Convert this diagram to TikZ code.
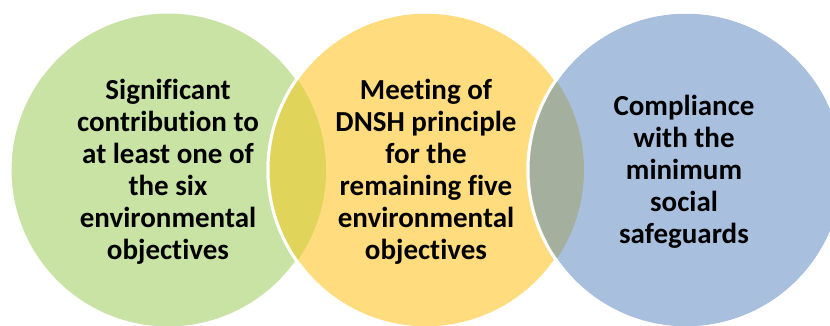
\documentclass[tikz,border=0pt]{standalone}
\usepackage{fontspec}
\setmainfont{Carlito}[Ligatures=NoCommon]
\usetikzlibrary{positioning}
\definecolor{sigfill}{HTML}{C9E3A5}
\definecolor{dnshfill}{HTML}{FFDC7D}
\definecolor{msgfill}{HTML}{A8C0DE}
\definecolor{sigdnsh}{HTML}{E0D45A}
\definecolor{dnshmsg}{HTML}{A5AF9E}

\begin{document}
\begin{tikzpicture}[x=1pt, y=1pt,
	goal/.style={circle, minimum size=316pt, inner sep=0pt, draw=white, line width=3pt},
	goaltext/.style={font=\bfseries\fontsize{29}{32}\selectfont, align=center, text=black}]
	\useasboundingbox (0,0) rectangle (830,325);
	\clip (0,0) rectangle (830,325);
	% Circles and their overlaps:
	\node[goal, fill=sigfill](sig) at (168, 155){};
	\node[goal, fill=dnshfill](dnsh) at (426, 155){};
	\begin{scope}
		\clip (sig.center) circle[radius=158];
		\fill[sigdnsh] (dnsh.center) circle[radius=158];
	\end{scope}
	\node[goal] at (dnsh.center){};
	\node[goal, fill=msgfill](msg) at (686, 155){};
	\begin{scope}
		\clip (dnsh.center) circle[radius=158];
		\fill[dnshmsg] (msg.center) circle[radius=158];
	\end{scope}
	\node[goal] at (msg.center){};
	% Texts:
	\node[goaltext](sigtext) at ([yshift=-2pt]sig.center){Significant\\contribution to\\at least one of\\the six\\environmental\\objectives};
	\node[goaltext](dnshtext) at ([yshift=-2pt]dnsh.center){Meeting of\\DNSH principle\\for the\\remaining five\\environmental\\objectives};
	\node[goaltext](msgtext) at ([xshift=-2pt, yshift=-2pt]msg.center){Compliance\\with the\\minimum\\social\\safeguards};
\end{tikzpicture}
\end{document}
